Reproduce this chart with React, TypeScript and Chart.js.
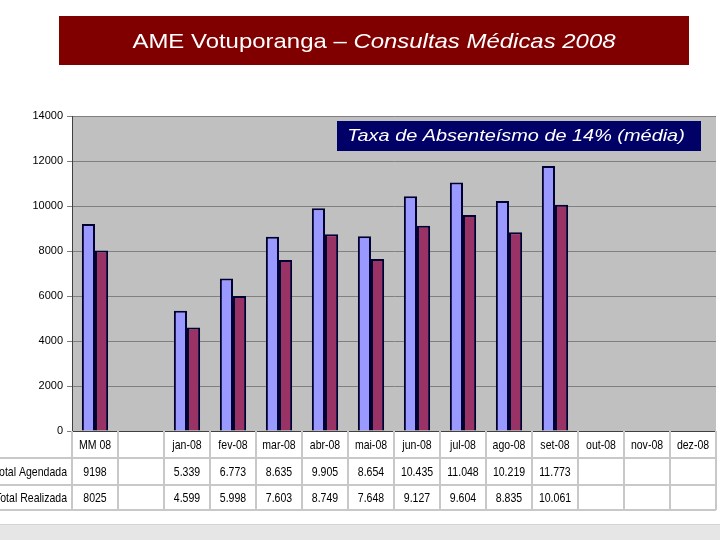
import React, { useEffect, useRef } from "react";
import { Chart, registerables } from "chart.js";
Chart.register(...registerables);

const categories = ["MM 08", "", "jan-08", "fev-08", "mar-08", "abr-08", "mai-08", "jun-08", "jul-08", "ago-08", "set-08", "out-08", "nov-08", "dez-08"];
const agendada = [9198, null, 5339, 6773, 8635, 9905, 8654, 10435, 11048, 10219, 11773, null, null, null];
const realizada = [8025, null, 4599, 5998, 7603, 8749, 7648, 9127, 9604, 8835, 10061, null, null, null];
const agendadaLabels = ["9198", "", "5.339", "6.773", "8.635", "9.905", "8.654", "10.435", "11.048", "10.219", "11.773", "", "", ""];
const realizadaLabels = ["8025", "", "4.599", "5.998", "7.603", "8.749", "7.648", "9.127", "9.604", "8.835", "10.061", "", "", ""];
const rowLabels = ["Total Agendada", "Total Realizada"];
const titleMain = "AME Votuporanga – ";
const titleItalic = "Consultas Médicas 2008";
const noteText = "Taxa de Absenteísmo de 14% (média)";
const yMin = 0;
const yMax = 14000;
const yStep = 2000;

const SANS = '"Liberation Sans", Arial, sans-serif';
const SQUEEZE = 0.78;

function scaledText(ctx: CanvasRenderingContext2D, text: string, x: number, y: number, sx: number) {
  ctx.save();
  ctx.translate(x, y);
  ctx.scale(sx, 1);
  ctx.fillText(text, 0, 0);
  ctx.restore();
}

const decorPlugin = {
  id: "decor",
  beforeDraw(chart: any) {
    const { ctx, chartArea } = chart;
    ctx.save();
    ctx.fillStyle = "#ffffff";
    ctx.fillRect(0, 0, chart.width, chart.height);
    ctx.fillStyle = "#c0c0c0";
    ctx.fillRect(chartArea.left, chartArea.top, chartArea.right - chartArea.left, chartArea.bottom - chartArea.top);
    // title box
    ctx.fillStyle = "#800000";
    ctx.fillRect(59, 16, 630, 49);
    const sx = 1.14;
    ctx.font = "21px " + SANS;
    const w1 = ctx.measureText(titleMain).width * sx;
    ctx.font = "italic 21px " + SANS;
    const w2 = ctx.measureText(titleItalic).width * sx;
    const startX = 374 - (w1 + w2) / 2;
    ctx.fillStyle = "#ffffff";
    ctx.textBaseline = "middle";
    ctx.textAlign = "left";
    ctx.font = "21px " + SANS;
    scaledText(ctx, titleMain, startX, 42, sx);
    ctx.font = "italic 21px " + SANS;
    scaledText(ctx, titleItalic, startX + w1, 42, sx);
    // bottom band
    ctx.fillStyle = "#e6e6e6";
    ctx.fillRect(0, 525, chart.width, 15);
    ctx.fillStyle = "#d4d4d4";
    ctx.fillRect(0, 524, chart.width, 1);
    ctx.restore();
  },
  afterDraw(chart: any) {
    const { ctx, chartArea } = chart;
    const x = chart.scales.x;
    const n = categories.length;
    const cw = (chartArea.right - chartArea.left) / n;
    const top = chartArea.bottom;
    const rows = [top, top + 27, top + 54, top + 79];
    ctx.save();
    ctx.strokeStyle = "#c8c8c8";
    ctx.lineWidth = 2;
    ctx.beginPath();
    for (let r = 1; r < rows.length; r++) {
      ctx.moveTo(0, rows[r]);
      ctx.lineTo(chartArea.right, rows[r]);
    }
    for (let i = 0; i <= n; i++) {
      const xx = Math.round(chartArea.left + i * cw);
      ctx.moveTo(xx, top);
      ctx.lineTo(xx, rows[3]);
    }
    ctx.stroke();
    ctx.fillStyle = "#000000";
    ctx.textBaseline = "middle";
    ctx.textAlign = "center";
    ctx.font = "13.5px " + SANS;
    for (let i = 0; i < n; i++) {
      const cx = x.getPixelForValue(i);
      scaledText(ctx, categories[i], cx, (rows[0] + rows[1]) / 2 + 1, SQUEEZE);
      scaledText(ctx, agendadaLabels[i], cx, (rows[1] + rows[2]) / 2 + 1, SQUEEZE);
      scaledText(ctx, realizadaLabels[i], cx, (rows[2] + rows[3]) / 2 + 1, SQUEEZE);
    }
    ctx.textAlign = "right";
    scaledText(ctx, rowLabels[0], chartArea.left - 5, (rows[1] + rows[2]) / 2 + 1, SQUEEZE);
    scaledText(ctx, rowLabels[1], chartArea.left - 5, (rows[2] + rows[3]) / 2 + 1, SQUEEZE);
    // note box
    ctx.fillStyle = "#000066";
    ctx.fillRect(337, 121, 364, 30);
    ctx.fillStyle = "#ffffff";
    ctx.textAlign = "center";
    ctx.font = "italic 17px " + SANS;
    scaledText(ctx, noteText, 516, 136, 1.17);
    ctx.restore();
  },
};

export default function App() {
  const ref = useRef<HTMLCanvasElement>(null);
  useEffect(() => {
    if (!ref.current) return;
    const chart = new Chart(ref.current, {
      type: "bar",
      data: {
        labels: categories,
        datasets: [
          {
            label: "Total Agendada",
            data: agendada,
            backgroundColor: "#9999ff",
            borderColor: "#000033",
            borderWidth: 2,
            borderSkipped: "bottom",
          },
          {
            label: "Total Realizada",
            data: realizada,
            backgroundColor: "#993366",
            borderColor: "#000033",
            borderWidth: 2,
            borderSkipped: "bottom",
          },
        ],
      },
      options: {
        animation: false,
        responsive: false,
        devicePixelRatio: 1,
        layout: { padding: { top: 116, bottom: 109, left: 0, right: 4 } },
        plugins: { legend: { display: false }, tooltip: { enabled: false }, title: { display: false } },
        datasets: { bar: { categoryPercentage: 0.57, barPercentage: 1 } },
        scales: {
          x: {
            type: "category",
            ticks: { display: false },
            grid: { display: false, drawTicks: false },
            border: { display: true, color: "#404040", width: 1 },
            afterFit: (s: any) => {
              s.height = 0;
            },
          },
          y: {
            min: yMin,
            max: yMax,
            ticks: {
              stepSize: yStep,
              color: "#000000",
              font: { family: SANS, size: 11 },
              padding: 4,
              callback: (v: any) => String(v),
            },
            grid: { color: "#808080", tickLength: 5, lineWidth: 1 },
            border: { display: true, color: "#404040", width: 1 },
            afterFit: (s: any) => {
              s.width = 72;
            },
          },
        },
      },
      plugins: [decorPlugin],
    });
    return () => chart.destroy();
  }, []);
  return (
    <div style={{ position: "absolute", left: 0, top: 0, width: 720, height: 540 }}>
      <canvas ref={ref} width={720} height={540} />
    </div>
  );
}
